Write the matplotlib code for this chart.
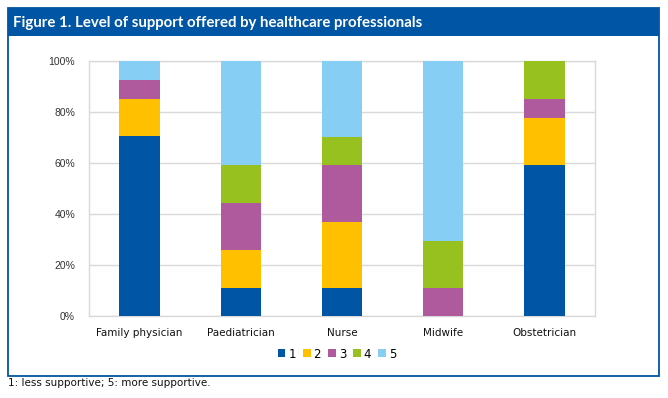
import numpy as np
import matplotlib
matplotlib.use("Agg")
import matplotlib.pyplot as plt
from matplotlib.patches import Rectangle

# share of responses (%) per support level, one list per level
professions = ["Family physician", "Paediatrician", "Nurse", "Midwife", "Obstetrician"]
levels = ["1", "2", "3", "4", "5"]
level_1 = [70.4, 11.1, 11.1, 0.0, 59.3]
level_2 = [14.8, 14.8, 25.9, 0.0, 18.5]
level_3 = [7.4, 18.5, 22.2, 11.1, 7.4]
level_4 = [0.0, 14.8, 11.1, 18.5, 14.8]
level_5 = [7.4, 40.7, 29.6, 70.4, 0.0]
y_ticks = [0, 20, 40, 60, 80, 100]

COLORS = ["#0055A4", "#FFC000", "#B05A9E", "#96C11F", "#87CEF5"]
FRAME_BLUE = "#0055A4"
GRID_GREY = "#D9D9D9"

W, H = 668, 398


def px_x(x):
    return x / W


def px_y(y):
    return 1 - y / H


fig = plt.figure(figsize=(W / 100, H / 100), dpi=100)

# outer frame and title band
fig.add_artist(Rectangle((px_x(8), px_y(36)), 651 / W, 28 / H,
                         transform=fig.transFigure, facecolor=FRAME_BLUE,
                         edgecolor="none", zorder=0))
fig.add_artist(Rectangle((px_x(8), px_y(376)), 651 / W, 368 / H,
                         transform=fig.transFigure, fill=False,
                         edgecolor=FRAME_BLUE, linewidth=1.3, zorder=1))
fig.text(px_x(13), px_y(27.5), "Figure 1. Level of support offered by healthcare professionals",
         color="white", fontsize=10.8, fontweight="bold", va="baseline",
         family=["DejaVu Sans Condensed", "Lato", "DejaVu Sans"])

ax = fig.add_axes([px_x(89), px_y(316), (595 - 89) / W, (316 - 61) / H])

series = np.array([level_1, level_2, level_3, level_4, level_5])
x = np.arange(len(professions))
bottom = np.zeros(len(professions))
handles = []
for values, color, label in zip(series, COLORS, levels):
    bars = ax.bar(x, values, width=0.4, bottom=bottom, color=color, label=label, zorder=3)
    handles.append(bars)
    bottom += values

ax.set_xlim(-0.5, len(professions) - 0.5)
ax.set_ylim(0, 100)
ax.set_yticks(y_ticks)
ax.set_yticklabels([f"{t}%" for t in y_ticks], fontsize=7.5, family="Liberation Sans", color="#333333")
ax.set_xticks(x)
ax.set_xticklabels(professions, fontsize=7.5, color="#111111")
ax.tick_params(axis="both", length=0)
ax.tick_params(axis="y", pad=10)
ax.tick_params(axis="x", pad=9)
ax.yaxis.grid(True, color=GRID_GREY, linewidth=1, zorder=0)
for spine in ax.spines.values():
    spine.set_color(GRID_GREY)
    spine.set_linewidth(1)

fig.legend(handles=handles, labels=levels, loc="center", ncol=5,
           bbox_to_anchor=(px_x(337), px_y(354)), frameon=False,
           fontsize=8.5, handlelength=0.65, handleheight=0.65,
           handletextpad=0.25, columnspacing=0.6)

fig.text(px_x(8), px_y(383), "1: less supportive; 5: more supportive.",
         fontsize=7.5, va="center", color="#111111")

fig.savefig("out.png", dpi=100)
